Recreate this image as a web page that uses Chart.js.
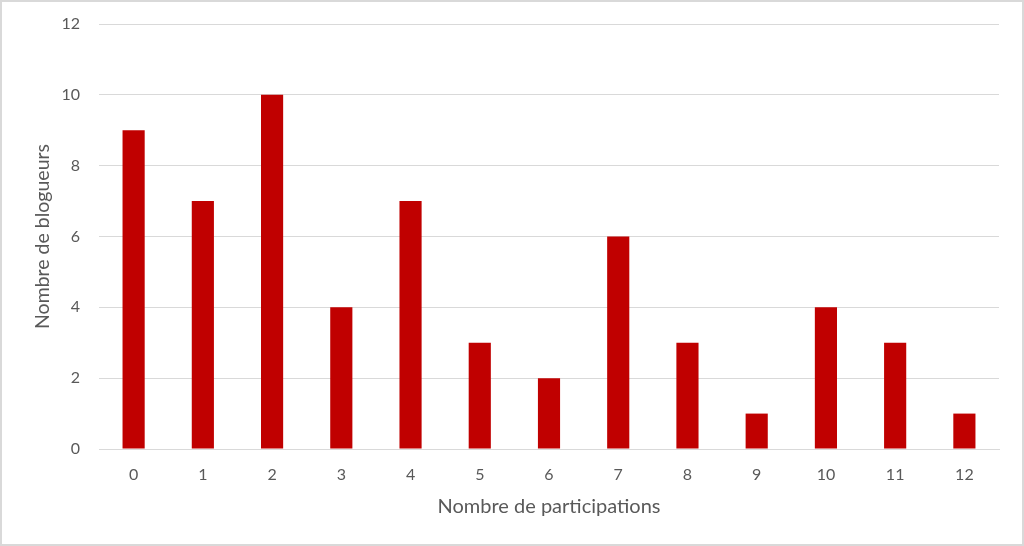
<!DOCTYPE html>
<html>
<head>
<meta charset="utf-8">
<script src="https://cdn.jsdelivr.net/npm/chart.js@4/dist/chart.umd.min.js"></script>
<style>
html,body{margin:0;padding:0;background:#fff;}
#wrap{width:1024px;height:546px;position:relative;}
</style>
</head>
<body>
<div id="wrap"><canvas id="c" width="1024" height="546"></canvas></div>
<script>
const categories = ['0','1','2','3','4','5','6','7','8','9','10','11','12'];
const blogueurs = [9,7,10,4,7,3,2,6,3,1,4,3,1];
const xTitle = 'Nombre de participations';
const yTitle = 'Nombre de blogueurs';

const borderPlugin = {
  id: 'frame',
  beforeDraw(chart) {
    const ctx = chart.ctx;
    ctx.save();
    ctx.fillStyle = '#ffffff';
    ctx.fillRect(0, 0, chart.width, chart.height);
    ctx.strokeStyle = '#d9d9d9';
    ctx.lineWidth = 2;
    ctx.strokeRect(1, 1, chart.width - 2, chart.height - 2);
    ctx.restore();
  }
};

const FONT = 'Lato, "Open Sans", sans-serif';
new Chart(document.getElementById('c'), {
  type: 'bar',
  data: {
    labels: categories,
    datasets: [{
      data: blogueurs,
      backgroundColor: '#C00000',
      borderWidth: 0,
      barPercentage: 0.64,
      categoryPercentage: 0.5
    }]
  },
  options: {
    responsive: false,
    animation: false,
    devicePixelRatio: 1,
    layout: { padding: { top: 24, right: 25, left: 0, bottom: 0 } },
    plugins: { legend: { display: false }, tooltip: { enabled: false } },
    scales: {
      x: {
        grid: { display: false, drawTicks: false },
        border: { display: true, color: '#d9d9d9', width: 1 },
        ticks: { color: '#595959', font: { family: FONT, size: 16 }, padding: 16, maxRotation: 0 },
        title: { display: true, text: xTitle, color: '#595959', font: { family: FONT, size: 20 }, padding: { top: 0, bottom: 27 } },
        afterFit(scale) { scale.height = 97; scale.paddingLeft = 0; scale.paddingRight = 0; }
      },
      y: {
        min: 0, max: 12,
        grid: { color: '#d9d9d9', lineWidth: 1, drawTicks: false },
        border: { display: false },
        ticks: { stepSize: 2, color: '#595959', font: { family: FONT, size: 16 }, padding: 19 },
        title: { display: true, text: yTitle, color: '#595959', font: { family: FONT, size: 19.5 }, padding: { top: 31, bottom: 0 } },
        afterFit(scale) { scale.width = 99; scale.paddingTop = 0; scale.paddingBottom = 0; }
      }
    }
  },
  plugins: [borderPlugin]
});
</script>
</body>
</html>
